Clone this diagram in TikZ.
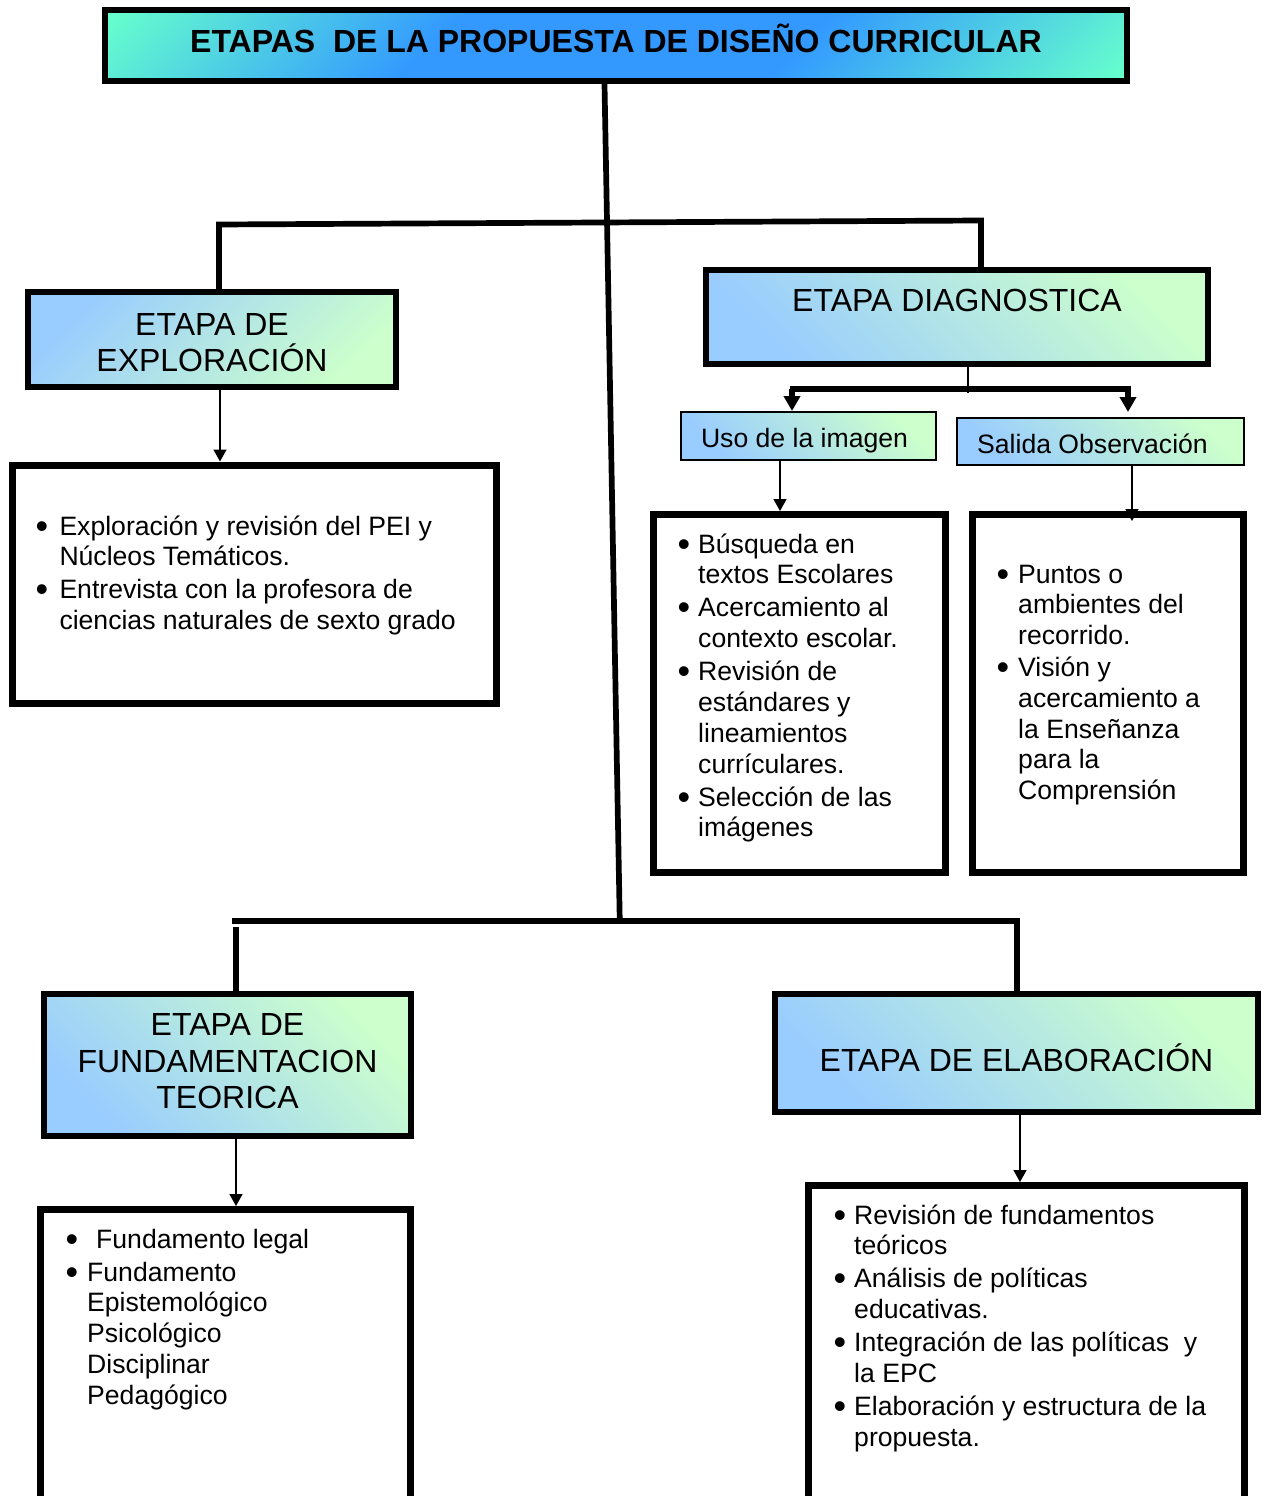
\documentclass[tikz,border=0pt]{standalone}
\usepackage{fontspec}
\setmainfont{Liberation Sans}
\usetikzlibrary{arrows.meta,calc}
\definecolor{blueL}{HTML}{99CCFF}
\definecolor{greenL}{HTML}{CCFFCC}
\definecolor{aquaC}{HTML}{66FFCC}
\definecolor{blueM}{HTML}{3399FF}
\pgfdeclareverticalshading{titleshade}{100bp}{color(0bp)=(aquaC); color(15bp)=(aquaC); color(38bp)=(blueM); color(62bp)=(blueM); color(85bp)=(aquaC); color(100bp)=(aquaC)}
\newcommand{\biglab}{\fontsize{32pt}{36.5pt}\selectfont}
\newcommand{\smalllab}{\fontsize{26.6pt}{30.8pt}\selectfont}
\newcommand{\blt}{\raisebox{-3pt}{\scalebox{1.35}{\textbullet}}}
\begin{document}
\begin{tikzpicture}[x=1pt,y=-1pt,
  gbase/.style={draw, inner sep=0pt, align=center, font=\biglab},
  gboxA/.style={gbase, line width=6pt, top color=greenL, bottom color=blueL, shading angle=-45},
  gboxB/.style={gbase, line width=6pt, top color=blueL, bottom color=greenL, shading angle=45},
  sbox/.style={gbase, line width=2pt, font=\smalllab, top color=greenL, bottom color=blueL, shading angle=-45},
  titlebox/.style={draw, line width=6pt, inner sep=0pt, shade, shading=titleshade, shading angle=45, font=\fontsize{32pt}{36pt}\selectfont\bfseries},
  listbox/.style={draw, line width=7pt, fill=white, inner sep=0pt},
  listtext/.style={inner sep=0pt, anchor=base west, font=\smalllab, align=left},
  thickline/.style={line width=5.7pt},
  thinline/.style={line width=1.5pt},
  thickarrow/.style={line width=5.2pt, -{Triangle[width=16pt,length=15pt]}},
  thinarrow/.style={line width=1.5pt, -{Triangle[width=13pt,length=12pt]}}
]
\useasboundingbox (0,0) rectangle (1262,1496);
\clip (0,0) rectangle (1262,1496);

% boxes
\node[titlebox, minimum width=1022pt, minimum height=71pt, text height=24pt, text depth=10pt] (title) at (616,45.5) {ETAPAS\ \ DE LA PROPUESTA DE DISEÑO CURRICULAR};
\node[gboxB, minimum width=368pt, minimum height=95pt, text height=67pt, text depth=3pt] (explo) at (212,339.5) {ETAPA DE\\EXPLORACIÓN};
\node[listbox, minimum width=484.5pt, minimum height=238.5pt] (explolist) at (254.25,584.25) {};
\node[gboxA, minimum width=502pt, minimum height=94pt, text height=24pt, text depth=35pt] (diag) at (957,317) {ETAPA DIAGNOSTICA};
\node[sbox, minimum width=255pt, minimum height=48pt, text height=26pt, text depth=3pt] (uso) at (808.5,436) {Uso de la imagen\hspace{8pt}};
\node[sbox, minimum width=287pt, minimum height=47pt, text height=27pt, text depth=3pt] (salida) at (1100.5,441.5) {Salida Observación\hspace{16pt}};
\node[listbox, minimum width=292pt, minimum height=358pt] (usolist) at (799.5,693.5) {};
\node[listbox, minimum width=271pt, minimum height=358pt] (salidalist) at (1108,693.5) {};
\node[gboxA, minimum width=367pt, minimum height=142pt, text height=90pt, text depth=3pt] (fund) at (227.5,1065) {ETAPA DE\\FUNDAMENTACION\\TEORICA};
\node[listbox, minimum width=370pt, minimum height=320.5pt] (fundlist) at (225.5,1369.75) {};
\node[gboxA, minimum width=483pt, minimum height=118pt, text height=40pt, text depth=3pt] (elab) at (1016.5,1053) {ETAPA DE ELABORACIÓN};
\node[listbox, minimum width=436pt, minimum height=344.5pt] (elablist) at (1026.5,1357.75) {};

% list texts
\node[listtext] (explotext) at (35.3,535) {\begin{tabular}[t]{@{}p{24pt}@{}l@{}}
\blt & Exploración y revisión del PEI y\\
 & Núcleos Temáticos.\\[2.2pt]
\blt & Entrevista con la profesora de\\
 & ciencias naturales de sexto grado
\end{tabular}};
\node[listtext] (usotext) at (677.3,553) {\begin{tabular}[t]{@{}p{20.7pt}@{}l@{}}
\blt & Búsqueda en\\
 & textos Escolares\\[2.2pt]
\blt & Acercamiento al\\
 & contexto escolar.\\[2.2pt]
\blt & Revisión de\\
 & estándares y\\
 & lineamientos\\
 & currículares.\\[2.2pt]
\blt & Selección de las\\
 & imágenes
\end{tabular}};
\node[listtext] (salidatext) at (996.3,583) {\begin{tabular}[t]{@{}p{21.7pt}@{}l@{}}
\blt & Puntos o\\
 & ambientes del\\
 & recorrido.\\[1pt]
\blt & Visión y\\
 & acercamiento a\\
 & la Enseñanza\\
 & para la\\
 & Comprensión
\end{tabular}};
\node[listtext] (fundtext) at (65.3,1248) {\begin{tabular}[t]{@{}p{21.7pt}@{}l@{}}
\blt & \hspace{9pt}Fundamento legal\\[2.2pt]
\blt & Fundamento\\
 & Epistemológico\\
 & Psicológico\\
 & Disciplinar\\
 & Pedagógico
\end{tabular}};
\node[listtext] (elabtext) at (833.3,1224) {\begin{tabular}[t]{@{}p{20.7pt}@{}l@{}}
\blt & Revisión de fundamentos\\
 & teóricos\\[2.2pt]
\blt & Análisis de políticas\\
 & educativas.\\[2.2pt]
\blt & Integración de las políticas\ \ y\\
 & la EPC\\[2.2pt]
\blt & Elaboración y estructura de la\\
 & propuesta.
\end{tabular}};

% connector coordinates
\coordinate (m1) at (604.5,0);
\coordinate (m2) at (619.7,918);
\coordinate (u1) at (219,224.5);
\coordinate (u2) at (981,220.5);
\coordinate (l1) at (232,921);
\coordinate (l2) at (1017,921);
\coordinate (l3) at (236,927);
\coordinate (d1) at (968,393);
\coordinate (b1) at (792,389);
\coordinate (b2) at (1128,389);
\coordinate (b2e) at (1128,412);
\coordinate (e1) at (220,0);
\coordinate (e2) at (780,0);
\coordinate (e3) at (1132,0);
\coordinate (e3e) at (1132,521);
\coordinate (e4) at (236,0);
\coordinate (e5) at (1020,0);

% main tree
\draw[thickline] (title.south -| m1) -- (m2);
\draw[thickline] (explo.north -| u1) -- (u1) -- (u2) -- (diag.north -| u2);
\draw[thickline] (l1) -- (l2) -- (elab.north -| l2);
\draw[thickline] (l3) -- (fund.north -| l3);

% diagnostic subtree
\draw[thinline] (diag.south -| d1) -- (d1);
\draw[thickline] ([xshift=-2.5pt]b1) -- ([xshift=2.5pt]b2);
\draw[thickarrow] (b1) -- (uso.north -| b1);
\draw[thickarrow] (b2) -- (b2e);

% thin arrows to lists
\draw[thinarrow] (explo.south -| e1) -- (explolist.north -| e1);
\draw[thinarrow] (uso.south -| e2) -- (usolist.north -| e2);
\draw[thinarrow] (salida.south -| e3) -- (e3e);
\draw[thinarrow] (fund.south -| e4) -- (fundlist.north -| e4);
\draw[thinarrow] (elab.south -| e5) -- (elablist.north -| e5);
\end{tikzpicture}
\end{document}
